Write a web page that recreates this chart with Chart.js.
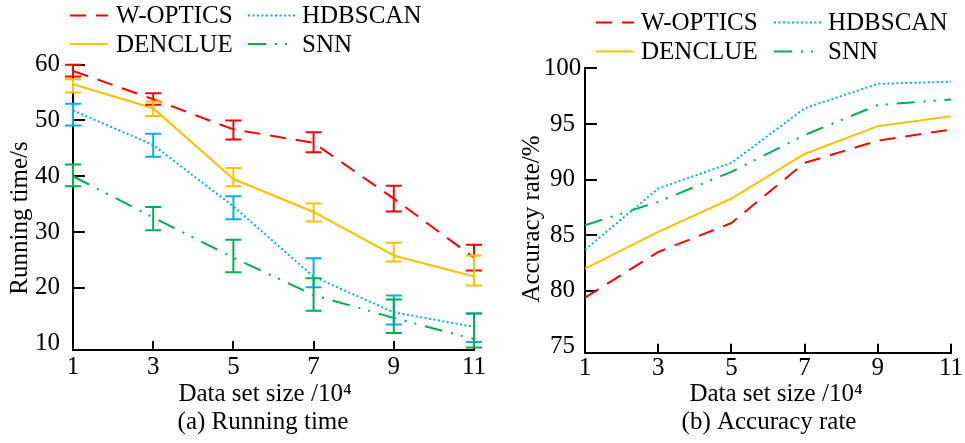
<!DOCTYPE html>
<html>
<head>
<meta charset="utf-8">
<script src="https://cdn.jsdelivr.net/npm/chart.js@4.4.1/dist/chart.umd.min.js"></script>
<style>
  body { margin: 0; background: #fff; }
  #wrap { position: relative; width: 965px; height: 443px; }
  #timeChart { position: absolute; left: 0; top: 0; }
  #accChart { position: absolute; left: 490px; top: 0; }
</style>
</head>
<body>
<div id="wrap">
  <canvas id="timeChart" width="490" height="443"></canvas>
  <canvas id="accChart" width="475" height="443"></canvas>
</div>
<script>
// data set size (x 10^4)
var sizes = [1, 3, 5, 7, 9, 11];
var seriesNames = ['W-OPTICS', 'DENCLUE', 'HDBSCAN', 'SNN'];

// running time in seconds
var timeWoptics = [58.9, 53.8, 48.4, 46.0, 36.0, 25.4];
var timeDenclue = [56.5, 52.2, 39.5, 33.6, 25.8, 22.0];
var timeHdbscan = [51.8, 45.6, 34.6, 22.0, 15.6, 13.0];
var timeSnn = [40.0, 32.6, 25.4, 18.7, 14.6, 10.8];

// error bar ranges [low, high] for the running time
var errWoptics = [[57.9, 60.0], [52.8, 54.9], [46.6, 50.0], [44.3, 47.9], [33.7, 38.3], [23.1, 27.7]];
var errDenclue = [[55.0, 57.4], [50.8, 53.4], [38.2, 41.5], [31.9, 35.1], [24.7, 28.1], [20.4, 25.8]];
var errHdbscan = [[49.1, 53.0], [43.5, 47.6], [32.3, 36.4], [20.1, 25.3], [13.4, 18.6], [10.3, 15.4]];
var errSnn = [[38.2, 42.1], [30.3, 34.5], [22.8, 28.6], [15.9, 21.7], [11.9, 17.9], [9.3, 15.4]];

// accuracy rate in percent
var accWoptics = [79.4, 83.5, 86.1, 91.5, 93.5, 94.5];
var accDenclue = [82.0, 85.3, 88.3, 92.3, 94.8, 95.7];
var accHdbscan = [83.7, 89.2, 91.5, 96.4, 98.6, 98.8];
var accSnn = [85.9, 88.0, 90.7, 94.0, 96.7, 97.2];

var timeTicks = [10, 20, 30, 40, 50, 60];
var accTicks = [75, 80, 85, 90, 95, 100];

var colors = ['#FF0000', '#FFC000', '#00B0F0', '#00B050'];
var dashes = [[16, 10], [], [2, 2.5], [18, 9, 2, 8, 2, 9]];

var FONT = '"Liberation Serif", "Times New Roman", serif';
Chart.defaults.font.family = FONT;
Chart.defaults.font.size = 25;
Chart.defaults.color = '#000';

function makeDatasets(valueLists, errLists) {
    return valueLists.map(function (vals, i) {
        return {
            label: seriesNames[i],
            data: sizes.map(function (s, j) { return {x: s, y: vals[j]}; }),
            borderColor: colors[i],
            borderWidth: 2,
            borderDash: dashes[i],
            pointRadius: 0,
            fill: false,
            tension: 0,
            errorBars: errLists ? errLists[i] : null
        };
    });
}

/*
 ticks pointing into the plot, error bars, legend and captions
 */
var figurePlugin = {
    id: 'figure',
    beforeDatasetsDraw: function (chart, args, opts) {
        var ctx = chart.ctx, area = chart.chartArea;
        var xs = chart.scales.x, ys = chart.scales.y;
        ctx.save();
        ctx.strokeStyle = '#000';
        ctx.lineWidth = 2;
        ctx.beginPath();
        ys.ticks.slice(1).forEach(function (t) {
            var py = Math.round(ys.getPixelForValue(t.value));
            ctx.moveTo(area.left, py);
            ctx.lineTo(area.left + opts.yTickLen, py);
        });
        xs.ticks.slice(1).forEach(function (t) {
            var px = Math.round(xs.getPixelForValue(t.value));
            ctx.moveTo(px, area.bottom);
            ctx.lineTo(px, area.bottom - opts.xTickLen);
        });
        ctx.stroke();
        ctx.restore();
    },
    afterDatasetsDraw: function (chart, args, opts) {
        var ctx = chart.ctx;
        var xs = chart.scales.x, ys = chart.scales.y;
        var cap = opts.capHalf;
        ctx.save();
        ctx.setLineDash([]);
        ctx.lineWidth = 2;
        chart.data.datasets.forEach(function (ds) {
            if (!ds.errorBars) return;
            ctx.strokeStyle = ds.borderColor;
            ds.errorBars.forEach(function (r, j) {
                var px = xs.getPixelForValue(ds.data[j].x);
                var lo = ys.getPixelForValue(r[0]);
                var hi = ys.getPixelForValue(r[1]);
                ctx.beginPath();
                ctx.moveTo(px, lo); ctx.lineTo(px, hi);
                ctx.moveTo(px - cap, lo); ctx.lineTo(px + cap, lo);
                ctx.moveTo(px - cap, hi); ctx.lineTo(px + cap, hi);
                ctx.stroke();
            });
        });
        ctx.restore();
    },
    afterDraw: function (chart, args, opts) {
        var ctx = chart.ctx;
        var lg = opts.legend;
        ctx.save();
        ctx.font = '25px ' + FONT;
        ctx.fillStyle = '#000';
        ctx.textBaseline = 'middle';
        chart.data.datasets.forEach(function (ds, i) {
            var col = lg.cols[Math.floor(i / 2)];
            var y = lg.rows[i % 2];
            ctx.strokeStyle = ds.borderColor;
            ctx.lineWidth = ds.borderWidth;
            ctx.setLineDash(ds.borderDash);
            ctx.beginPath();
            ctx.moveTo(col.x0, y);
            ctx.lineTo(col.x1, y);
            ctx.stroke();
            ctx.textAlign = 'left';
            ctx.fillText(ds.label, col.text, y + 1);
        });
        ctx.setLineDash([]);
        ctx.textAlign = 'center';
        opts.captions.forEach(function (c) {
            ctx.save();
            ctx.translate(c.x, c.y);
            if (c.rot) ctx.rotate(c.rot);
            ctx.fillText(c.text, 0, 0);
            ctx.restore();
        });
        ctx.restore();
    }
};

function makeOptions(cfg) {
    return {
        responsive: false,
        animation: false,
        devicePixelRatio: 1,
        layout: {padding: cfg.padding},
        scales: {
            x: {
                type: 'linear',
                min: 1,
                max: 11,
                afterBuildTicks: function (s) { s.ticks = sizes.map(function (v) { return {value: v}; }); },
                afterFit: function (s) { s.height = 30; },
                grid: {display: true, drawOnChartArea: false, drawTicks: false},
                border: {display: true, color: '#000', width: 2},
                ticks: {padding: cfg.xPad, maxRotation: 0, color: '#000'}
            },
            y: {
                min: cfg.yMin,
                max: cfg.yMax,
                afterBuildTicks: function (s) { s.ticks = cfg.yTicks.map(function (v) { return {value: v}; }); },
                afterFit: function (s) { s.width = cfg.yWidth; },
                grid: {display: true, drawOnChartArea: false, drawTicks: false},
                border: {display: true, color: '#000', width: 2},
                ticks: {padding: cfg.yPad, crossAlign: 'center', color: '#000'}
            }
        },
        plugins: {
            legend: {display: false},
            tooltip: {enabled: false},
            figure: {
                yTickLen: 12,
                xTickLen: 9,
                capHalf: 8,
                legend: cfg.legend,
                captions: cfg.captions
            }
        }
    };
}

var timeChart = new Chart(document.getElementById('timeChart').getContext('2d'), {
    type: 'line',
    data: {
        datasets: makeDatasets([timeWoptics, timeDenclue, timeHdbscan, timeSnn],
            [errWoptics, errDenclue, errHdbscan, errSnn])
    },
    options: makeOptions({
        padding: {left: 0, right: 16, top: 64.7, bottom: 63},
        yMin: 8.85, yMax: 60, yTicks: timeTicks, yWidth: 73, yPad: 13, xPad: 2.5,
        legend: {
            rows: [15.5, 44],
            cols: [{x0: 70, x1: 108, text: 116}, {x0: 248, x1: 295, text: 302}]
        },
        captions: [
            {text: 'Running time/s', x: 20, y: 218, rot: -Math.PI / 2},
            {text: 'Data set size /10\u2074', x: 265, y: 394.5},
            {text: '(a) Running time', x: 263, y: 422}
        ]
    }),
    plugins: [figurePlugin]
});

var accChart = new Chart(document.getElementById('accChart').getContext('2d'), {
    type: 'line',
    data: {
        datasets: makeDatasets([accWoptics, accDenclue, accHdbscan, accSnn], null)
    },
    options: makeOptions({
        padding: {left: 0, right: 14, top: 68.3, bottom: 60.3},
        yMin: 74.45, yMax: 100, yTicks: accTicks, yWidth: 95, yPad: 3.75, xPad: 0.6,
        legend: {
            rows: [22.5, 51.5],
            cols: [{x0: 106, x1: 144, text: 151}, {x0: 284, x1: 331, text: 338}]
        },
        captions: [
            {text: 'Accuracy rate/%', x: 42, y: 219, rot: -Math.PI / 2},
            {text: 'Data set size /10\u2074', x: 286, y: 394.5},
            {text: '(b) Accuracy rate', x: 279, y: 422.5}
        ]
    }),
    plugins: [figurePlugin]
});
</script>
</body>
</html>
